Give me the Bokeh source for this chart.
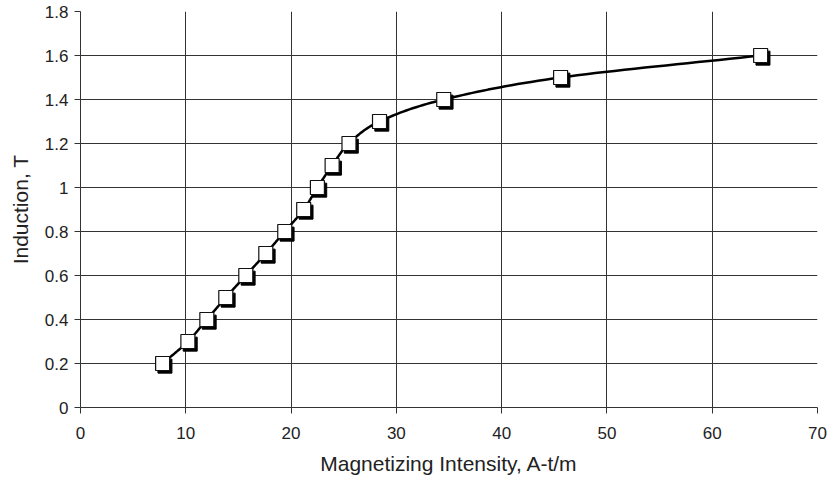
import numpy as np
from bokeh.plotting import figure
from bokeh.models import ColumnDataSource, Range1d, FixedTicker
from bokeh.transform import dodge
from bokeh.embed import file_html
from bokeh.resources import INLINE

# Data
H = [7.8, 10.2, 12.0, 13.8, 15.7, 17.6, 19.4, 21.2, 22.5, 23.9, 25.5, 28.4, 34.5, 45.6, 64.6]
B = [0.2, 0.3, 0.4, 0.5, 0.6, 0.7, 0.8, 0.9, 1.0, 1.1, 1.2, 1.3, 1.4, 1.5, 1.6]
x_ticks = [0, 10, 20, 30, 40, 50, 60, 70]
y_ticks = [0, 0.2, 0.4, 0.6, 0.8, 1.0, 1.2, 1.4, 1.6, 1.8]
y_labels = {0: "0", 0.2: "0.2", 0.4: "0.4", 0.6: "0.6", 0.8: "0.8", 1.0: "1",
            1.2: "1.2", 1.4: "1.4", 1.6: "1.6", 1.8: "1.8"}


def catmull_rom(xs, ys, n=20):
    xs = np.asarray(xs, float); ys = np.asarray(ys, float)
    px = np.concatenate([[2 * xs[0] - xs[1]], xs, [2 * xs[-1] - xs[-2]]])
    py = np.concatenate([[2 * ys[0] - ys[1]], ys, [2 * ys[-1] - ys[-2]]])
    ox, oy = [], []
    for i in range(1, len(px) - 2):
        t = np.linspace(0, 1, n, endpoint=False)
        for arr, out in ((px, ox), (py, oy)):
            p0, p1, p2, p3 = arr[i - 1], arr[i], arr[i + 1], arr[i + 2]
            out.extend(0.5 * ((2 * p1) + (-p0 + p2) * t + (2 * p0 - 5 * p1 + 4 * p2 - p3) * t ** 2
                              + (-p0 + 3 * p1 - 3 * p2 + p3) * t ** 3))
    ox.append(xs[-1]); oy.append(ys[-1])
    return ox, oy


sx, sy = catmull_rom(H, B)

p = figure(width=831, height=486, output_backend="svg", toolbar_location=None,
           x_range=Range1d(0, 70), y_range=Range1d(0, 1.8),
           min_border_left=80, min_border_right=14, min_border_top=11, min_border_bottom=79)
p.outline_line_color = None
p.background_fill_color = "white"

font = "Liberation Sans"
for ax in (p.xaxis[0], p.yaxis[0]):
    ax.major_label_text_font = font
    ax.major_label_text_font_size = "17px"
    ax.major_label_text_color = "#222222"
    ax.axis_label_text_font = font
    ax.axis_label_text_font_style = "normal"
    ax.axis_label_text_font_size = "21px"
    ax.axis_label_text_color = "#222222"
    ax.axis_line_color = "#333333"
    ax.major_tick_line_color = "#333333"
    ax.major_tick_out = 6
    ax.major_tick_in = 0
    ax.minor_tick_line_color = None

p.xaxis.ticker = FixedTicker(ticks=x_ticks)
p.yaxis.ticker = FixedTicker(ticks=y_ticks)
p.yaxis.major_label_overrides = y_labels
p.xaxis.axis_label = "Magnetizing Intensity, A-t/m"
p.yaxis.axis_label = "Induction, T"
p.xaxis.major_label_standoff = 13
p.xaxis.axis_label_standoff = 10
p.yaxis.major_label_standoff = 6
p.yaxis.axis_label_standoff = 10

p.xgrid.ticker = FixedTicker(ticks=x_ticks)
p.ygrid.ticker = FixedTicker(ticks=y_ticks)
for g in (p.xgrid[0], p.ygrid[0]):
    g.grid_line_color = "#333333"
    g.grid_line_width = 1

p.line(sx, sy, line_color="black", line_width=2.5)

src = ColumnDataSource(dict(H=H, B=B))
p.scatter(x=dodge("H", 0.22, range=p.x_range), y=dodge("B", -0.012, range=p.y_range), source=src,
          marker="square", size=14, fill_color="black", line_color="black")
p.scatter(x="H", y="B", source=src, marker="square", size=14,
          fill_color="white", line_color="#111111", line_width=1.2)

open("out.html", "w").write(file_html(p, INLINE))
